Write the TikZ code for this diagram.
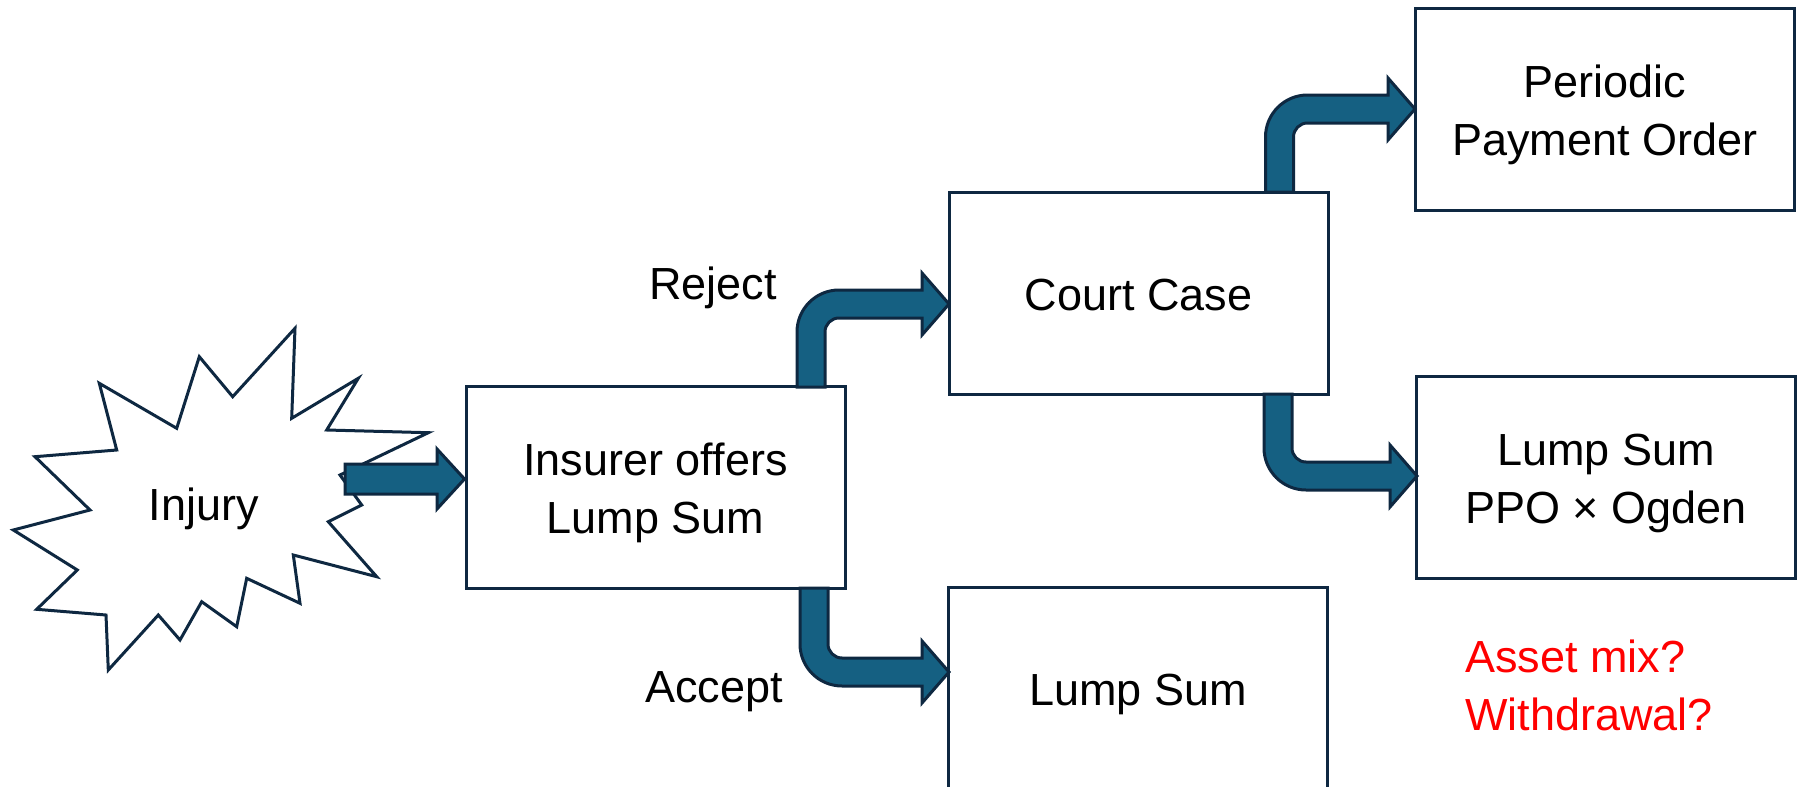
\documentclass[tikz,border=0pt]{standalone}
\usepackage{fontspec}
\setmainfont{Liberation Sans}
\definecolor{navy}{HTML}{0E2841}
\definecolor{flowblue}{HTML}{156082}
\definecolor{alert}{HTML}{FF0000}

% line strut, so that every box centres its lines the same way
\newcommand\ls{\rule[-10pt]{0pt}{54pt}}

% Block arrow that leaves a box upwards and turns right.
% #1 shaft centre x, #2 foot y, #3 level of the horizontal shaft, #4 tip x
\newcommand\bendup[4]{%
  \filldraw[flow] (#1-14,#2) -- (#1-14,#3+28) arc (180:270:42)
    -- (#4-27,#3-14) -- (#4-27,#3-31) -- (#4,#3) -- (#4-27,#3+31)
    -- (#4-27,#3+14) -- (#1+28,#3+14) arc (270:180:14)
    -- (#1+14,#2) -- cycle;}
% Block arrow that leaves a box downwards and turns right.
\newcommand\benddown[4]{%
  \filldraw[flow] (#1-14,#2) -- (#1-14,#3-28) arc (180:90:42)
    -- (#4-27,#3+14) -- (#4-27,#3+31) -- (#4,#3) -- (#4-27,#3-31)
    -- (#4-27,#3-14) -- (#1+28,#3-14) arc (90:180:14)
    -- (#1+14,#2) -- cycle;}

\begin{document}
\begin{tikzpicture}[x=1pt,y=-1pt,
  txt/.style={font=\fontsize{45}{58}\selectfont, inner sep=0pt},
  box/.style={txt, draw=navy, line width=3pt, fill=white,
    minimum width=379pt, minimum height=202pt, align=center},
  flow/.style={fill=flowblue, draw=navy, line width=3pt, line join=miter},
  burst/.style={draw=navy, fill=white, line width=3pt, line join=miter}]
\useasboundingbox (0,0) rectangle (1797,787);

% explosion outline
\filldraw[burst] (295,328.3) -- (291.7,418.3) -- (358.3,378.3) -- (326.7,430)
  -- (428.3,432.7) -- (340,475) -- (361.7,505) -- (328.3,521.7)
  -- (376.7,576.7) -- (293.3,555) -- (300,603.3) -- (246.7,578.3)
  -- (236.7,626.7) -- (201.7,601.7) -- (180,640) -- (158.3,615)
  -- (108.3,670) -- (106,615) -- (36.7,609.3) -- (77.3,570)
  -- (13.3,530) -- (90,510) -- (35,456.7) -- (116.7,450)
  -- (99.3,383.3) -- (176.7,428.3) -- (199.3,356.7) -- (232.7,396.7) -- cycle;
\node[txt, anchor=base] (injury) at (204,520) {Injury};

% boxes
\node[box] (offer) at (655.5,487.5) {\ls Insurer offers\\\ls Lump Sum};
\node[box] (court) at (1138.5,293) {\ls Court Case};
\node[box] (lump)  at (1138,688) {\ls Lump Sum};
\node[box] (ppo)   at (1605,109) {\ls Periodic\\\ls Payment Order};
\node[box] (ogden) at (1606,477) {\ls Lump Sum\\\ls PPO × Ogden};

% arrows
\filldraw[flow] (345,464) -- (437,464) -- (437,449) -- (offer.west |- 0,479)
  -- (437,509) -- (437,494) -- (345,494) -- cycle;
\bendup{811}{387}{304}{949}
\benddown{814}{588}{672}{949}
\bendup{1279.5}{192}{109}{1415}
\benddown{1278}{394}{476}{1417}

% branch labels and open questions
\node[txt, anchor=base] (reject) at (713,299) {Reject};
\node[txt, anchor=base] (accept) at (714,702) {Accept};
\node[txt, text=alert, align=left, anchor=north west] (questions) at (1465,640)
  {Asset mix?\\Withdrawal?};
\end{tikzpicture}
\end{document}
